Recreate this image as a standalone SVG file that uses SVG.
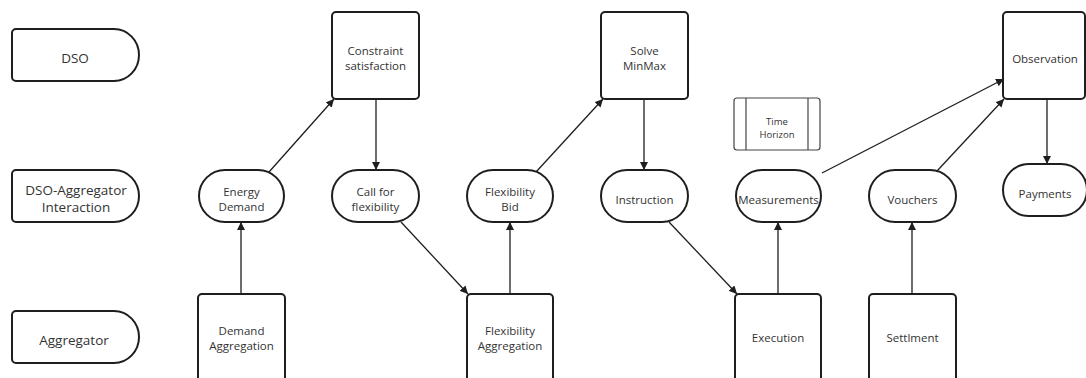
<svg xmlns="http://www.w3.org/2000/svg" width="1086" height="378" viewBox="0 0 1086 378">
  <style>
    .shape { fill: #ffffff; stroke: #1e1e1e; stroke-width: 2; }
    .thin { fill: #ffffff; stroke: #444444; stroke-width: 1.2; }
    .lbl { font-family: "Open Sans", "Noto Sans", sans-serif; font-size: 11.5px; fill: #333333; text-anchor: middle; }
    .lane { font-family: "Open Sans", "Noto Sans", sans-serif; font-size: 13.5px; fill: #333333; text-anchor: middle; }
    .small { font-family: "Open Sans", "Noto Sans", sans-serif; font-size: 9.5px; fill: #333333; text-anchor: middle; }
    .edge { fill: none; stroke: #1e1e1e; stroke-width: 1.3; marker-end: url(#arrow); }
  </style>
  <defs>
    <marker id="arrow" viewBox="0 0 10 10" refX="10" refY="5" markerWidth="8" markerHeight="8" markerUnits="userSpaceOnUse" orient="auto">
      <path d="M0,0 L10,5 L0,10 z" fill="#1e1e1e"/>
    </marker>
  </defs>
  <rect width="1086" height="378" fill="#ffffff"/>

  <!-- swimlane labels -->
  <g id="lane-dso">
    <path class="shape" d="M16,29 H114 A25,26 0 0 1 114,81 H16 A4,4 0 0 1 12,77 V33 A4,4 0 0 1 16,29 Z"/>
    <text class="lane" x="75" y="63">DSO</text>
  </g>
  <g id="lane-interaction">
    <path class="shape" d="M16,170 H114 A25,26 0 0 1 114,222 H16 A4,4 0 0 1 12,218 V174 A4,4 0 0 1 16,170 Z"/>
    <text class="lane" x="76" y="195">DSO-Aggregator</text>
    <text class="lane" x="76" y="212">Interaction</text>
  </g>
  <g id="lane-aggregator">
    <path class="shape" d="M16,311 H114 A25,26 0 0 1 114,363 H16 A4,4 0 0 1 12,359 V315 A4,4 0 0 1 16,311 Z"/>
    <text class="lane" x="74" y="345">Aggregator</text>
  </g>

  <!-- connectors -->
  <g id="connectors">
    <line class="edge" x1="241" y1="294" x2="241" y2="222"/>
    <line class="edge" x1="269" y1="172" x2="334" y2="99"/>
    <line class="edge" x1="376" y1="99" x2="376" y2="170"/>
    <line class="edge" x1="401" y1="222" x2="468" y2="294"/>
    <line class="edge" x1="510" y1="294" x2="510" y2="222"/>
    <line class="edge" x1="536" y1="172" x2="603" y2="99"/>
    <line class="edge" x1="644" y1="99" x2="644" y2="170"/>
    <line class="edge" x1="669" y1="222" x2="737" y2="294"/>
    <line class="edge" x1="778" y1="294" x2="778" y2="222"/>
    <line class="edge" x1="822" y1="173" x2="1004" y2="79"/>
    <line class="edge" x1="912" y1="294" x2="912" y2="222"/>
    <line class="edge" x1="937" y1="171" x2="1004" y2="99"/>
    <line class="edge" x1="1047" y1="99" x2="1047" y2="164"/>
  </g>

  <!-- DSO row -->
  <g id="constraint-satisfaction">
    <rect class="shape" x="332" y="12" width="87" height="87" rx="4"/>
    <text class="lbl" x="375.5" y="55">Constraint</text>
    <text class="lbl" x="375.5" y="70">satisfaction</text>
  </g>
  <g id="solve-minmax">
    <rect class="shape" x="601" y="12" width="87" height="87" rx="4"/>
    <text class="lbl" x="644.5" y="55">Solve</text>
    <text class="lbl" x="644.5" y="70">MinMax</text>
  </g>
  <g id="observation">
    <rect class="shape" x="1003" y="12" width="82" height="87" rx="4"/>
    <text class="lbl" x="1045" y="63">Observation</text>
  </g>
  <g id="time-horizon">
    <rect class="thin" x="734" y="98" width="86" height="52" rx="3"/>
    <line x1="746" y1="98" x2="746" y2="150" stroke="#444444" stroke-width="1.2"/>
    <line x1="808" y1="98" x2="808" y2="150" stroke="#444444" stroke-width="1.2"/>
    <text class="small" x="777" y="125">Time</text>
    <text class="small" x="777" y="138">Horizon</text>
  </g>

  <!-- interaction row -->
  <g id="energy-demand">
    <rect class="shape" x="199" y="170" width="85" height="52" rx="26"/>
    <text class="lbl" x="241.5" y="196">Energy</text>
    <text class="lbl" x="241.5" y="211">Demand</text>
  </g>
  <g id="call-for-flexibility">
    <rect class="shape" x="332" y="170" width="87" height="52" rx="26"/>
    <text class="lbl" x="375.5" y="196">Call for</text>
    <text class="lbl" x="375.5" y="211">flexibility</text>
  </g>
  <g id="flexibility-bid">
    <rect class="shape" x="467" y="170" width="86" height="52" rx="26"/>
    <text class="lbl" x="510" y="196">Flexibility</text>
    <text class="lbl" x="510" y="211">Bid</text>
  </g>
  <g id="instruction">
    <rect class="shape" x="601" y="170" width="87" height="52" rx="26"/>
    <text class="lbl" x="644.5" y="204">Instruction</text>
  </g>
  <g id="measurements">
    <rect class="shape" x="736" y="170" width="85" height="52" rx="26"/>
    <text class="lbl" x="778.5" y="204">Measurements</text>
  </g>
  <g id="vouchers">
    <rect class="shape" x="869" y="170" width="87" height="52" rx="26"/>
    <text class="lbl" x="912.5" y="204">Vouchers</text>
  </g>
  <g id="payments">
    <rect class="shape" x="1003" y="164" width="84" height="52" rx="26"/>
    <text class="lbl" x="1045" y="198">Payments</text>
  </g>

  <!-- aggregator row -->
  <g id="demand-aggregation">
    <rect class="shape" x="198" y="294" width="87" height="90" rx="4"/>
    <text class="lbl" x="241.5" y="335">Demand</text>
    <text class="lbl" x="241.5" y="350">Aggregation</text>
  </g>
  <g id="flexibility-aggregation">
    <rect class="shape" x="467" y="294" width="86" height="90" rx="4"/>
    <text class="lbl" x="510" y="335">Flexibility</text>
    <text class="lbl" x="510" y="350">Aggregation</text>
  </g>
  <g id="execution">
    <rect class="shape" x="735" y="294" width="86" height="90" rx="4"/>
    <text class="lbl" x="778" y="342">Execution</text>
  </g>
  <g id="settlement">
    <rect class="shape" x="869" y="294" width="87" height="90" rx="4"/>
    <text class="lbl" x="912.5" y="342">Settlment</text>
  </g>
</svg>
